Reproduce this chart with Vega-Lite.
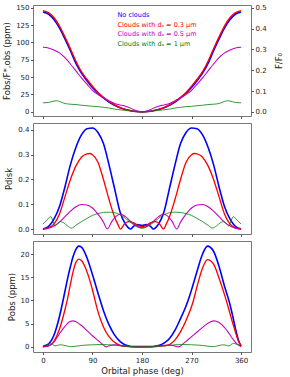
{
  "$schema": "https://vega.github.io/schema/vega-lite/v6.json",
  "padding": {"left": 2, "top": 3, "right": 2, "bottom": 1},
  "config": {
    "font": "DejaVu Sans",
    "view": {"stroke": "#777", "strokeWidth": 1},
    "axis": {"labelFontSize": 7, "titleFontSize": 8.5, "titleFontWeight": "normal", "tickSize": 2.5, "domain": false, "tickColor": "#555", "labelColor": "#222", "titleColor": "#222", "grid": false, "labelPadding": 1.5}
  },
  "spacing": 2,
  "datasets": {
    "top": [
      {"p":0,"s":"a","v":144},{"p":10,"s":"a","v":141},{"p":20,"s":"a","v":133},{"p":30,"s":"a","v":121},{"p":40,"s":"a","v":105},{"p":50,"s":"a","v":88},{"p":60,"s":"a","v":70},{"p":70,"s":"a","v":56},{"p":80,"s":"a","v":45},{"p":90,"s":"a","v":35},{"p":100,"s":"a","v":27},{"p":110,"s":"a","v":20},{"p":120,"s":"a","v":14},{"p":130,"s":"a","v":9.5},{"p":140,"s":"a","v":6},{"p":150,"s":"a","v":3.5},{"p":160,"s":"a","v":1.5},{"p":170,"s":"a","v":0.4},{"p":180,"s":"a","v":0},{"p":190,"s":"a","v":0.4},{"p":200,"s":"a","v":1.5},{"p":210,"s":"a","v":3.5},{"p":220,"s":"a","v":6},{"p":230,"s":"a","v":9.5},{"p":240,"s":"a","v":14},{"p":250,"s":"a","v":20},{"p":260,"s":"a","v":27},{"p":270,"s":"a","v":35},{"p":280,"s":"a","v":45},{"p":290,"s":"a","v":56},{"p":300,"s":"a","v":70},{"p":310,"s":"a","v":88},{"p":320,"s":"a","v":105},{"p":330,"s":"a","v":121},{"p":340,"s":"a","v":133},{"p":350,"s":"a","v":141},{"p":360,"s":"a","v":144},
      {"p":0,"s":"b","v":146},{"p":10,"s":"b","v":143},{"p":20,"s":"b","v":136},{"p":30,"s":"b","v":124},{"p":40,"s":"b","v":108},{"p":50,"s":"b","v":91},{"p":60,"s":"b","v":73},{"p":70,"s":"b","v":58},{"p":80,"s":"b","v":47},{"p":90,"s":"b","v":37},{"p":100,"s":"b","v":28},{"p":110,"s":"b","v":21},{"p":120,"s":"b","v":15},{"p":130,"s":"b","v":10},{"p":140,"s":"b","v":6},{"p":150,"s":"b","v":3.5},{"p":160,"s":"b","v":1.5},{"p":170,"s":"b","v":0.4},{"p":180,"s":"b","v":0},{"p":190,"s":"b","v":0.4},{"p":200,"s":"b","v":1.5},{"p":210,"s":"b","v":3.5},{"p":220,"s":"b","v":6},{"p":230,"s":"b","v":10},{"p":240,"s":"b","v":15},{"p":250,"s":"b","v":21},{"p":260,"s":"b","v":28},{"p":270,"s":"b","v":37},{"p":280,"s":"b","v":47},{"p":290,"s":"b","v":58},{"p":300,"s":"b","v":73},{"p":310,"s":"b","v":91},{"p":320,"s":"b","v":108},{"p":330,"s":"b","v":124},{"p":340,"s":"b","v":136},{"p":350,"s":"b","v":143},{"p":360,"s":"b","v":146},
      {"p":0,"s":"c","v":93},{"p":10,"s":"c","v":92},{"p":20,"s":"c","v":89},{"p":30,"s":"c","v":85},{"p":40,"s":"c","v":78},{"p":50,"s":"c","v":69},{"p":60,"s":"c","v":59},{"p":70,"s":"c","v":49},{"p":80,"s":"c","v":40},{"p":90,"s":"c","v":31},{"p":100,"s":"c","v":25},{"p":110,"s":"c","v":20},{"p":120,"s":"c","v":16},{"p":130,"s":"c","v":12},{"p":140,"s":"c","v":10},{"p":150,"s":"c","v":8},{"p":160,"s":"c","v":5},{"p":170,"s":"c","v":1.5},{"p":180,"s":"c","v":0},{"p":190,"s":"c","v":1.5},{"p":200,"s":"c","v":5},{"p":210,"s":"c","v":8},{"p":220,"s":"c","v":10},{"p":230,"s":"c","v":12},{"p":240,"s":"c","v":16},{"p":250,"s":"c","v":20},{"p":260,"s":"c","v":25},{"p":270,"s":"c","v":31},{"p":280,"s":"c","v":40},{"p":290,"s":"c","v":49},{"p":300,"s":"c","v":59},{"p":310,"s":"c","v":69},{"p":320,"s":"c","v":78},{"p":330,"s":"c","v":85},{"p":340,"s":"c","v":89},{"p":350,"s":"c","v":92},{"p":360,"s":"c","v":93},
      {"p":0,"s":"d","v":13},{"p":10,"s":"d","v":13.5},{"p":20,"s":"d","v":15.5},{"p":25,"s":"d","v":16},{"p":30,"s":"d","v":15},{"p":40,"s":"d","v":12},{"p":50,"s":"d","v":11},{"p":60,"s":"d","v":10.5},{"p":70,"s":"d","v":9.5},{"p":80,"s":"d","v":8.8},{"p":90,"s":"d","v":8},{"p":100,"s":"d","v":7.5},{"p":110,"s":"d","v":6.5},{"p":120,"s":"d","v":5.5},{"p":130,"s":"d","v":4},{"p":140,"s":"d","v":3},{"p":150,"s":"d","v":2},{"p":160,"s":"d","v":1.2},{"p":170,"s":"d","v":0.4},{"p":180,"s":"d","v":0},{"p":190,"s":"d","v":0.4},{"p":200,"s":"d","v":1.2},{"p":210,"s":"d","v":2},{"p":220,"s":"d","v":3},{"p":230,"s":"d","v":4},{"p":240,"s":"d","v":5.5},{"p":250,"s":"d","v":6.5},{"p":260,"s":"d","v":7.5},{"p":270,"s":"d","v":8},{"p":280,"s":"d","v":8.8},{"p":290,"s":"d","v":9.5},{"p":300,"s":"d","v":10.5},{"p":310,"s":"d","v":11},{"p":320,"s":"d","v":12},{"p":330,"s":"d","v":15},{"p":335,"s":"d","v":16},{"p":340,"s":"d","v":15.5},{"p":350,"s":"d","v":13.5},{"p":360,"s":"d","v":13}
    ],
    "mid": [
      {"p":0,"s":"a","v":0},{"p":10,"s":"a","v":0.01},{"p":20,"s":"a","v":0.04},{"p":30,"s":"a","v":0.09},{"p":40,"s":"a","v":0.17},{"p":50,"s":"a","v":0.26},{"p":60,"s":"a","v":0.33},{"p":70,"s":"a","v":0.38},{"p":80,"s":"a","v":0.405},{"p":90,"s":"a","v":0.408},{"p":100,"s":"a","v":0.39},{"p":110,"s":"a","v":0.345},{"p":120,"s":"a","v":0.26},{"p":130,"s":"a","v":0.165},{"p":140,"s":"a","v":0.07},{"p":150,"s":"a","v":0.02},{"p":155,"s":"a","v":0.006},{"p":159,"s":"a","v":0},{"p":165,"s":"a","v":0.012},{"p":172,"s":"a","v":0.018},{"p":180,"s":"a","v":0.014},{"p":188,"s":"a","v":0.018},{"p":195,"s":"a","v":0.012},{"p":201,"s":"a","v":0},{"p":205,"s":"a","v":0.006},{"p":210,"s":"a","v":0.02},{"p":220,"s":"a","v":0.07},{"p":230,"s":"a","v":0.165},{"p":240,"s":"a","v":0.26},{"p":250,"s":"a","v":0.345},{"p":260,"s":"a","v":0.39},{"p":270,"s":"a","v":0.408},{"p":280,"s":"a","v":0.405},{"p":290,"s":"a","v":0.38},{"p":300,"s":"a","v":0.33},{"p":310,"s":"a","v":0.26},{"p":320,"s":"a","v":0.17},{"p":330,"s":"a","v":0.09},{"p":340,"s":"a","v":0.04},{"p":350,"s":"a","v":0.01},{"p":360,"s":"a","v":0},
      {"p":0,"s":"b","v":0},{"p":10,"s":"b","v":0.005},{"p":20,"s":"b","v":0.02},{"p":30,"s":"b","v":0.06},{"p":40,"s":"b","v":0.13},{"p":50,"s":"b","v":0.2},{"p":60,"s":"b","v":0.255},{"p":70,"s":"b","v":0.29},{"p":80,"s":"b","v":0.303},{"p":85,"s":"b","v":0.305},{"p":90,"s":"b","v":0.3},{"p":100,"s":"b","v":0.27},{"p":110,"s":"b","v":0.2},{"p":120,"s":"b","v":0.12},{"p":130,"s":"b","v":0.05},{"p":136,"s":"b","v":0.02},{"p":141,"s":"b","v":0},{"p":148,"s":"b","v":0.02},{"p":155,"s":"b","v":0.03},{"p":165,"s":"b","v":0.025},{"p":172,"s":"b","v":0.015},{"p":180,"s":"b","v":0.01},{"p":188,"s":"b","v":0.015},{"p":195,"s":"b","v":0.025},{"p":205,"s":"b","v":0.03},{"p":212,"s":"b","v":0.02},{"p":219,"s":"b","v":0},{"p":224,"s":"b","v":0.02},{"p":230,"s":"b","v":0.05},{"p":240,"s":"b","v":0.12},{"p":250,"s":"b","v":0.2},{"p":260,"s":"b","v":0.27},{"p":270,"s":"b","v":0.3},{"p":275,"s":"b","v":0.305},{"p":280,"s":"b","v":0.303},{"p":290,"s":"b","v":0.29},{"p":300,"s":"b","v":0.255},{"p":310,"s":"b","v":0.2},{"p":320,"s":"b","v":0.13},{"p":330,"s":"b","v":0.06},{"p":340,"s":"b","v":0.02},{"p":350,"s":"b","v":0.005},{"p":360,"s":"b","v":0},
      {"p":0,"s":"c","v":0},{"p":10,"s":"c","v":0.003},{"p":20,"s":"c","v":0.012},{"p":30,"s":"c","v":0.028},{"p":40,"s":"c","v":0.05},{"p":50,"s":"c","v":0.072},{"p":60,"s":"c","v":0.09},{"p":70,"s":"c","v":0.099},{"p":80,"s":"c","v":0.097},{"p":90,"s":"c","v":0.085},{"p":100,"s":"c","v":0.06},{"p":110,"s":"c","v":0.028},{"p":117,"s":"c","v":0},{"p":125,"s":"c","v":0.03},{"p":135,"s":"c","v":0.055},{"p":142,"s":"c","v":0.06},{"p":150,"s":"c","v":0.05},{"p":160,"s":"c","v":0.03},{"p":170,"s":"c","v":0.012},{"p":180,"s":"c","v":0.005},{"p":190,"s":"c","v":0.012},{"p":200,"s":"c","v":0.03},{"p":210,"s":"c","v":0.05},{"p":218,"s":"c","v":0.06},{"p":225,"s":"c","v":0.055},{"p":235,"s":"c","v":0.03},{"p":243,"s":"c","v":0},{"p":250,"s":"c","v":0.028},{"p":260,"s":"c","v":0.06},{"p":270,"s":"c","v":0.085},{"p":280,"s":"c","v":0.097},{"p":290,"s":"c","v":0.099},{"p":300,"s":"c","v":0.09},{"p":310,"s":"c","v":0.072},{"p":320,"s":"c","v":0.05},{"p":330,"s":"c","v":0.028},{"p":340,"s":"c","v":0.012},{"p":350,"s":"c","v":0.003},{"p":360,"s":"c","v":0},
      {"p":0,"s":"d","v":0.02},{"p":7,"s":"d","v":0.035},{"p":14,"s":"d","v":0.05},{"p":18,"s":"d","v":0.035},{"p":22,"s":"d","v":0.012},{"p":27,"s":"d","v":0.022},{"p":32,"s":"d","v":0.03},{"p":38,"s":"d","v":0.025},{"p":45,"s":"d","v":0.012},{"p":52,"s":"d","v":0.004},{"p":60,"s":"d","v":0.015},{"p":70,"s":"d","v":0.03},{"p":80,"s":"d","v":0.043},{"p":90,"s":"d","v":0.055},{"p":100,"s":"d","v":0.062},{"p":110,"s":"d","v":0.067},{"p":120,"s":"d","v":0.068},{"p":130,"s":"d","v":0.066},{"p":140,"s":"d","v":0.058},{"p":150,"s":"d","v":0.043},{"p":160,"s":"d","v":0.025},{"p":170,"s":"d","v":0.01},{"p":180,"s":"d","v":0.003},{"p":190,"s":"d","v":0.01},{"p":200,"s":"d","v":0.025},{"p":210,"s":"d","v":0.043},{"p":220,"s":"d","v":0.058},{"p":230,"s":"d","v":0.066},{"p":240,"s":"d","v":0.068},{"p":250,"s":"d","v":0.067},{"p":260,"s":"d","v":0.062},{"p":270,"s":"d","v":0.055},{"p":280,"s":"d","v":0.043},{"p":290,"s":"d","v":0.03},{"p":300,"s":"d","v":0.015},{"p":308,"s":"d","v":0.004},{"p":315,"s":"d","v":0.012},{"p":322,"s":"d","v":0.025},{"p":328,"s":"d","v":0.03},{"p":333,"s":"d","v":0.022},{"p":338,"s":"d","v":0.012},{"p":342,"s":"d","v":0.035},{"p":346,"s":"d","v":0.05},{"p":353,"s":"d","v":0.035},{"p":360,"s":"d","v":0.02}
    ],
    "bot": [
      {"p":0,"s":"a","v":0.1},{"p":10,"s":"a","v":0.6},{"p":20,"s":"a","v":2.5},{"p":30,"s":"a","v":6.5},{"p":38,"s":"a","v":10.8},{"p":45,"s":"a","v":14.8},{"p":50,"s":"a","v":17.3},{"p":55,"s":"a","v":19.5},{"p":60,"s":"a","v":21},{"p":65,"s":"a","v":21.7},{"p":70,"s":"a","v":21.5},{"p":80,"s":"a","v":19.2},{"p":90,"s":"a","v":15.6},{"p":100,"s":"a","v":11.6},{"p":110,"s":"a","v":7.8},{"p":120,"s":"a","v":4.8},{"p":130,"s":"a","v":2.6},{"p":140,"s":"a","v":1.2},{"p":150,"s":"a","v":0.4},{"p":160,"s":"a","v":0.1},{"p":170,"s":"a","v":0.05},{"p":180,"s":"a","v":0.05},{"p":190,"s":"a","v":0.05},{"p":200,"s":"a","v":0.1},{"p":210,"s":"a","v":0.3},{"p":220,"s":"a","v":0.8},{"p":230,"s":"a","v":1.8},{"p":240,"s":"a","v":3.6},{"p":250,"s":"a","v":6.1},{"p":260,"s":"a","v":8.8},{"p":266,"s":"a","v":10.8},{"p":270,"s":"a","v":12.3},{"p":280,"s":"a","v":16.3},{"p":290,"s":"a","v":20},{"p":299,"s":"a","v":21.7},{"p":310,"s":"a","v":20.6},{"p":320,"s":"a","v":17.3},{"p":330,"s":"a","v":13},{"p":339,"s":"a","v":9.5},{"p":345,"s":"a","v":6.5},{"p":350,"s":"a","v":3.8},{"p":355,"s":"a","v":1.5},{"p":360,"s":"a","v":0.2},
      {"p":0,"s":"b","v":0.05},{"p":10,"s":"b","v":0.2},{"p":20,"s":"b","v":1.2},{"p":30,"s":"b","v":3.8},{"p":40,"s":"b","v":8},{"p":45,"s":"b","v":10.5},{"p":50,"s":"b","v":13.5},{"p":55,"s":"b","v":16.3},{"p":60,"s":"b","v":18.2},{"p":65,"s":"b","v":18.9},{"p":70,"s":"b","v":18.6},{"p":80,"s":"b","v":16.2},{"p":90,"s":"b","v":12.3},{"p":96,"s":"b","v":9.4},{"p":100,"s":"b","v":7.6},{"p":110,"s":"b","v":4.3},{"p":120,"s":"b","v":2.2},{"p":130,"s":"b","v":1},{"p":140,"s":"b","v":0.35},{"p":150,"s":"b","v":0.1},{"p":160,"s":"b","v":0.03},{"p":180,"s":"b","v":0.02},{"p":200,"s":"b","v":0.03},{"p":220,"s":"b","v":0.2},{"p":230,"s":"b","v":0.5},{"p":240,"s":"b","v":1.5},{"p":250,"s":"b","v":3.3},{"p":260,"s":"b","v":5.7},{"p":272,"s":"b","v":9.4},{"p":280,"s":"b","v":13},{"p":290,"s":"b","v":17},{"p":299,"s":"b","v":18.8},{"p":310,"s":"b","v":17.8},{"p":320,"s":"b","v":14.8},{"p":330,"s":"b","v":11.2},{"p":336,"s":"b","v":8.8},{"p":345,"s":"b","v":5},{"p":350,"s":"b","v":3.1},{"p":355,"s":"b","v":1.3},{"p":360,"s":"b","v":0.2},
      {"p":0,"s":"c","v":0},{"p":10,"s":"c","v":0.2},{"p":20,"s":"c","v":1},{"p":30,"s":"c","v":2.8},{"p":40,"s":"c","v":4.4},{"p":50,"s":"c","v":5.5},{"p":55,"s":"c","v":5.6},{"p":60,"s":"c","v":5.4},{"p":70,"s":"c","v":4.6},{"p":80,"s":"c","v":3.5},{"p":90,"s":"c","v":2.4},{"p":100,"s":"c","v":1.4},{"p":108,"s":"c","v":0.6},{"p":115,"s":"c","v":0},{"p":122,"s":"c","v":0.3},{"p":130,"s":"c","v":0.45},{"p":140,"s":"c","v":0.35},{"p":150,"s":"c","v":0.2},{"p":160,"s":"c","v":0.08},{"p":180,"s":"c","v":0.02},{"p":200,"s":"c","v":0.08},{"p":210,"s":"c","v":0.2},{"p":220,"s":"c","v":0.35},{"p":228,"s":"c","v":0.4},{"p":238,"s":"c","v":0.25},{"p":246,"s":"c","v":0},{"p":255,"s":"c","v":0.7},{"p":265,"s":"c","v":1.7},{"p":275,"s":"c","v":2.7},{"p":285,"s":"c","v":3.7},{"p":295,"s":"c","v":4.7},{"p":305,"s":"c","v":5.4},{"p":310,"s":"c","v":5.6},{"p":315,"s":"c","v":5.5},{"p":325,"s":"c","v":4.8},{"p":335,"s":"c","v":3.4},{"p":345,"s":"c","v":1.7},{"p":352,"s":"c","v":0.7},{"p":360,"s":"c","v":0.05},
      {"p":0,"s":"d","v":0.25},{"p":7,"s":"d","v":0.5},{"p":14,"s":"d","v":0.78},{"p":18,"s":"d","v":0.5},{"p":22,"s":"d","v":0.2},{"p":27,"s":"d","v":0.35},{"p":32,"s":"d","v":0.45},{"p":38,"s":"d","v":0.35},{"p":45,"s":"d","v":0.15},{"p":52,"s":"d","v":0.05},{"p":60,"s":"d","v":0.15},{"p":70,"s":"d","v":0.3},{"p":80,"s":"d","v":0.4},{"p":90,"s":"d","v":0.45},{"p":100,"s":"d","v":0.5},{"p":110,"s":"d","v":0.5},{"p":120,"s":"d","v":0.45},{"p":130,"s":"d","v":0.35},{"p":140,"s":"d","v":0.25},{"p":150,"s":"d","v":0.15},{"p":160,"s":"d","v":0.07},{"p":170,"s":"d","v":0.03},{"p":180,"s":"d","v":0},{"p":190,"s":"d","v":0.03},{"p":200,"s":"d","v":0.07},{"p":210,"s":"d","v":0.15},{"p":220,"s":"d","v":0.25},{"p":230,"s":"d","v":0.35},{"p":240,"s":"d","v":0.45},{"p":250,"s":"d","v":0.5},{"p":260,"s":"d","v":0.5},{"p":270,"s":"d","v":0.45},{"p":280,"s":"d","v":0.4},{"p":290,"s":"d","v":0.3},{"p":300,"s":"d","v":0.15},{"p":308,"s":"d","v":0.05},{"p":315,"s":"d","v":0.15},{"p":322,"s":"d","v":0.35},{"p":328,"s":"d","v":0.45},{"p":333,"s":"d","v":0.35},{"p":338,"s":"d","v":0.2},{"p":342,"s":"d","v":0.5},{"p":346,"s":"d","v":0.78},{"p":353,"s":"d","v":0.5},{"p":360,"s":"d","v":0.25}
    ]
  },
  "vconcat": [
    {
      "width": 218, "height": 111,
      "layer": [
        {
          "data": {"name": "top"},
          "mark": {"type": "line", "interpolate": "monotone"},
          "encoding": {
            "x": {"field": "p", "type": "quantitative", "scale": {"domain": [-18, 378], "nice": false, "zero": false}, "axis": {"values": [0, 90, 180, 270, 360], "labels": false, "title": null}},
            "y": {"field": "v", "type": "quantitative", "scale": {"domain": [-6, 154], "nice": false, "zero": false}, "axis": {"values": [0, 25, 50, 75, 100, 125, 150], "title": "Fobs/F*,obs (ppm)"}},
            "color": {"field": "s", "type": "nominal", "scale": {"domain": ["a", "b", "c", "d"], "range": ["#0000ff", "#ff0000", "#bf00bf", "#008000"]},
              "legend": {"orient": "none", "legendX": 78, "legendY": 7, "title": null, "padding": 0, "labelFontSize": 6.5, "symbolSize": 0, "symbolOpacity": 0, "symbolStrokeWidth": 0, "labelOffset": 0, "rowPadding": 2.5,
                "labelExpr": "datum.value == 'a' ? 'No clouds' : datum.value == 'b' ? 'Clouds with dₐ = 0.3 µm' : datum.value == 'c' ? 'Clouds with dₐ = 0.5 µm' : 'Clouds with dₐ = 1 µm'",
                "encode": {"labels": {"update": {"fill": {"signal": "datum.value == 'a' ? '#0000ff' : datum.value == 'b' ? '#ff0000' : datum.value == 'c' ? '#bf00bf' : '#008000'"}}}}}},
            "size": {"field": "s", "type": "nominal", "scale": {"domain": ["a", "b", "c", "d"], "range": [1.6, 0.8, 0.8, 0.8]}, "legend": null}
          }
        },
        {
          "data": {"values": [{"r": 0}]},
          "mark": {"type": "point", "opacity": 0},
          "encoding": {
            "y": {"field": "r", "type": "quantitative", "scale": {"domain": [-0.02, 0.5133], "nice": false, "zero": false}, "axis": {"orient": "right", "values": [0, 0.1, 0.2, 0.3, 0.4, 0.5], "format": ".1f", "title": "F/F₀", "titleAngle": 270, "titlePadding": 12, "titleBaseline": "middle"}}
          }
        }
      ],
      "resolve": {"scale": {"y": "independent"}}
    },
    {
      "width": 218, "height": 111,
      "data": {"name": "mid"},
      "mark": {"type": "line", "interpolate": "monotone"},
      "encoding": {
        "x": {"field": "p", "type": "quantitative", "scale": {"domain": [-18, 378], "nice": false, "zero": false}, "axis": {"values": [0, 90, 180, 270, 360], "labels": false, "title": null}},
        "y": {"field": "v", "type": "quantitative", "scale": {"domain": [-0.02, 0.428], "nice": false, "zero": false}, "axis": {"values": [0, 0.1, 0.2, 0.3, 0.4], "format": ".1f", "title": "Pdisk"}},
        "color": {"field": "s", "type": "nominal", "scale": {"domain": ["a", "b", "c", "d"], "range": ["#0000ff", "#ff0000", "#bf00bf", "#008000"]}, "legend": null},
        "size": {"field": "s", "type": "nominal", "scale": {"domain": ["a", "b", "c", "d"], "range": [1.6, 0.8, 0.8, 0.8]}, "legend": null}
      }
    },
    {
      "width": 218, "height": 111,
      "data": {"name": "bot"},
      "mark": {"type": "line", "interpolate": "monotone"},
      "encoding": {
        "x": {"field": "p", "type": "quantitative", "scale": {"domain": [-18, 378], "nice": false, "zero": false}, "axis": {"values": [0, 90, 180, 270, 360], "title": "Orbital phase (deg)", "titlePadding": 3}},
        "y": {"field": "v", "type": "quantitative", "scale": {"domain": [-1.1, 22.8], "nice": false, "zero": false}, "axis": {"values": [0, 5, 10, 15, 20], "title": "Pobs (ppm)"}},
        "color": {"field": "s", "type": "nominal", "scale": {"domain": ["a", "b", "c", "d"], "range": ["#0000ff", "#ff0000", "#bf00bf", "#008000"]}, "legend": null},
        "size": {"field": "s", "type": "nominal", "scale": {"domain": ["a", "b", "c", "d"], "range": [1.6, 0.8, 0.8, 0.8]}, "legend": null}
      }
    }
  ],
  "resolve": {"scale": {"color": "independent", "size": "independent"}}
}
